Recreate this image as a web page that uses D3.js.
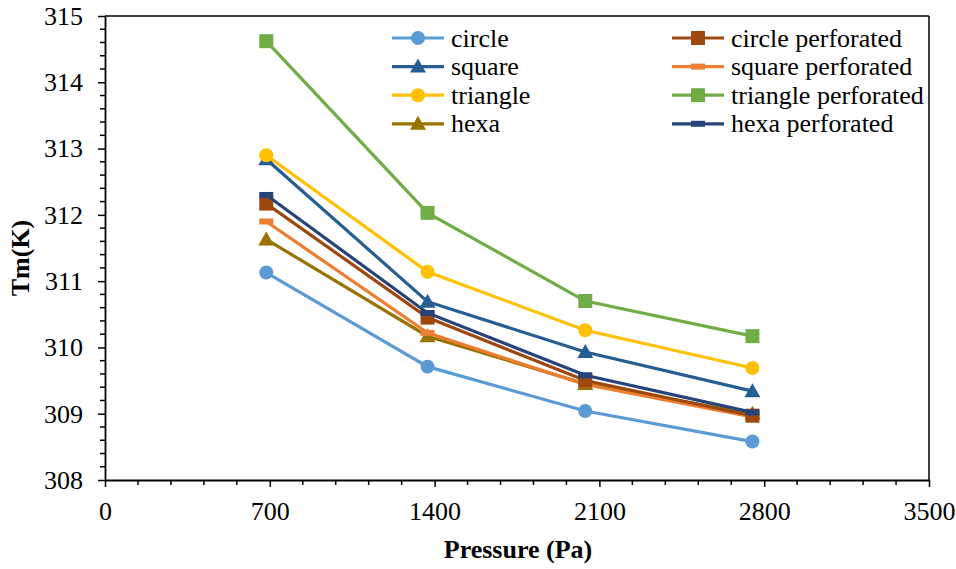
<!DOCTYPE html>
<html><head><meta charset="utf-8">
<script src="https://cdn.jsdelivr.net/npm/d3@7"></script>
<style>body{margin:0;background:#fff}svg{display:block}
svg text{font-family:"Liberation Serif","Times New Roman","DejaVu Serif",serif;}</style>
</head><body>
<script>
const pressures = [685, 1370, 2040, 2750];
const seriesNames = ["circle","square","triangle","hexa","circle perforated","square perforated","triangle perforated","hexa perforated"];
const circle = [311.13, 309.71, 309.04, 308.58];
const square = [312.84, 310.69, 309.93, 309.34];
const triangle = [312.90, 311.14, 310.26, 309.69];
const hexa = [311.63, 310.17, 309.45, 309.00];
const circlePerforated = [312.17, 310.45, 309.50, 308.97];
const squarePerforated = [311.90, 310.22, 309.44, 308.95];
const trianglePerforated = [314.62, 312.03, 310.70, 310.17];
const hexaPerforated = [312.30, 310.52, 309.58, 309.02];
const xTicks = [0, 700, 1400, 2100, 2800, 3500];
const yTicks = [308, 309, 310, 311, 312, 313, 314, 315];

const seriesValues = [circle, square, triangle, hexa, circlePerforated, squarePerforated, trianglePerforated, hexaPerforated];
const colors = ["#5B9BD5","#255E91","#FFC000","#997300","#9E480E","#ED7D31","#70AD47","#264478"];
const markers = ["circle","triangle","circle","triangle","square","dash","square","dash"];
const drawOrder = [0,3,5,4,7,1,2,6];

const W = 956, H = 569;
const svg = d3.select("body").append("svg").attr("width", W).attr("height", H);
const L = 105, R = 929, T = 16, B = 480;
const x = d3.scaleLinear().domain([0, 3500]).range([L, R]);
const y = d3.scaleLinear().domain([308, 315]).range([B, T]);
const FS = 26;

svg.append("line").attr("x1", L).attr("x2", R).attr("y1", T).attr("y2", T).attr("stroke", "#000").attr("stroke-width", 1.5);
svg.append("line").attr("x1", R).attr("x2", R).attr("y1", T).attr("y2", B).attr("stroke", "#000").attr("stroke-width", 1.5);

const xMinor = d3.range(0, 3501, 140).filter(v => v % 700 !== 0);
svg.append("g").selectAll("line").data(xMinor).join("line")
  .attr("x1", d => x(d)).attr("x2", d => x(d)).attr("y1", B).attr("y2", B + 5)
  .attr("stroke", "#000").attr("stroke-width", 1.5);
const yMinor = d3.range(0, 35).map(i => 308 + i * 0.2).filter((v, i) => i % 5 !== 0);
svg.append("g").selectAll("line").data(yMinor).join("line")
  .attr("x1", L - 5).attr("x2", L).attr("y1", d => y(d)).attr("y2", d => y(d))
  .attr("stroke", "#000").attr("stroke-width", 1.5);

const fmt = d3.format("d");
const xAxis = svg.append("g").attr("transform", `translate(0,${B})`)
  .call(d3.axisBottom(x).tickValues(xTicks).tickFormat(fmt).tickSize(7).tickSizeOuter(0).tickPadding(15));
const yAxis = svg.append("g").attr("transform", `translate(${L},0)`)
  .call(d3.axisLeft(y).tickValues(yTicks).tickFormat(fmt).tickSize(7).tickSizeOuter(0).tickPadding(15));
[xAxis, yAxis].forEach(g => {
  g.attr("font-family", null);
  g.select(".domain").attr("stroke", "#000").attr("stroke-width", 1.8);
  g.selectAll(".tick line").attr("stroke", "#000").attr("stroke-width", 1.5);
  g.selectAll("text").attr("font-size", FS).attr("fill", "#000");
});

svg.append("text").attr("x", 518).attr("y", 558).attr("text-anchor", "middle")
  .attr("font-size", FS).attr("font-weight", "bold").text("Pressure (Pa)");
svg.append("text").attr("transform", "translate(29,258) rotate(-90)").attr("text-anchor", "middle")
  .attr("font-size", FS).attr("font-weight", "bold").text("Tm(K)");

function drawMarker(g, type, cx, cy, color) {
  if (type === "circle") g.append("circle").attr("cx", cx).attr("cy", cy).attr("r", 7).attr("fill", color);
  else if (type === "square") g.append("rect").attr("x", cx - 7).attr("y", cy - 7).attr("width", 14).attr("height", 14).attr("fill", color);
  else if (type === "triangle") g.append("path").attr("d", `M${cx},${cy - 8}L${cx + 8},${cy + 6}L${cx - 8},${cy + 6}Z`).attr("fill", color);
  else if (type === "dash") g.append("rect").attr("x", cx - 7).attr("y", cy - 3).attr("width", 14).attr("height", 6).attr("fill", color);
}

const line = d3.line().x(d => x(d[0])).y(d => y(d[1]));
const plot = svg.append("g");
drawOrder.forEach(i => {
  const pts = pressures.map((p, j) => [p, seriesValues[i][j]]);
  const g = plot.append("g");
  g.append("path").attr("d", line(pts)).attr("fill", "none").attr("stroke", colors[i]).attr("stroke-width", 3.2);
  pts.forEach(p => drawMarker(g, markers[i], x(p[0]), y(p[1]), colors[i]));
});

const leg = svg.append("g");
seriesNames.forEach((name, i) => {
  const col = i < 4 ? 0 : 1, row = i % 4;
  const x0 = col === 0 ? 392 : 672, yy = 38 + row * 28.6;
  const g = leg.append("g");
  g.append("line").attr("x1", x0).attr("x2", x0 + 52).attr("y1", yy).attr("y2", yy).attr("stroke", colors[i]).attr("stroke-width", 3.2);
  drawMarker(g, markers[i], x0 + 26, yy, colors[i]);
  g.append("text").attr("x", x0 + 59).attr("y", yy).attr("dy", "0.33em")
    .attr("font-size", FS).attr("fill", "#000").text(name);
});
</script>
</body></html>
